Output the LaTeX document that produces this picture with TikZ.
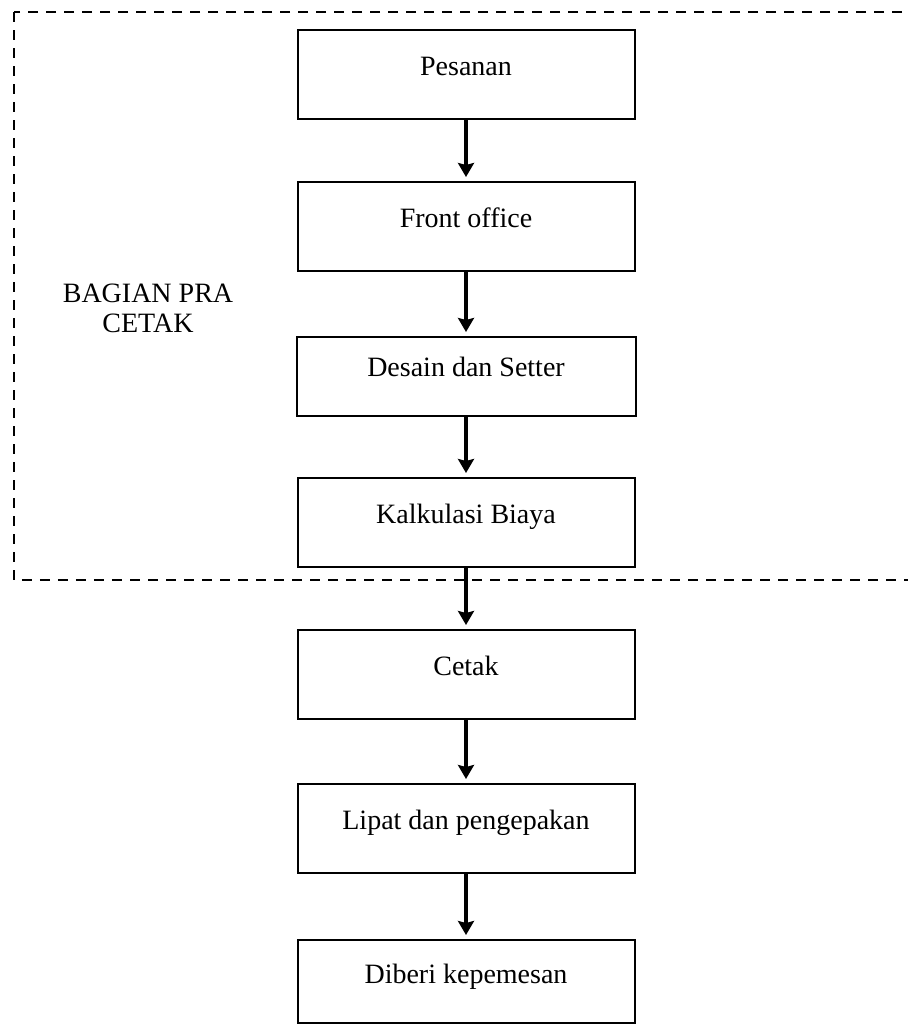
\documentclass[tikz,border=0pt]{standalone}
\usepackage{fontspec}
\setmainfont{Liberation Serif}
\usetikzlibrary{arrows.meta}

\tikzset{
    every step/.style={draw, line width=1pt, rectangle, inner sep=0pt,
        minimum width=168.5pt, text height=22.5pt, text depth=22pt,
        anchor=north, font=\fontsize{14pt}{15pt}\selectfont},
    step 3/.style={minimum width=169.5pt, text height=19.5pt, text depth=20pt},
    step 7/.style={text height=21.5pt, text depth=19.8pt},
    frame/.style={line width=1.1pt, dash pattern=on 5pt off 4pt},
}

\begin{document}
\begin{tikzpicture}[x=0.5pt, y=-0.5pt, >={Stealth[length=7pt, width=8pt, inset=1pt]}]
        \useasboundingbox (0,0) rectangle (907,1024);

        %%%%%%%%%%%%%%%%%%%%%%%%%%%%%%%%%%%%%%%%%%%%
        % Pra cetak frame
        %%%%%%%%%%%%%%%%%%%%%%%%%%%%%%%%%%%%%%%%%%%%
        \draw [frame] (14,12) rectangle (925,580);
        \node [align=center, font=\fontsize{14pt}{15pt}\selectfont]
            (pra) at (148,308) {BAGIAN PRA\\CETAK};

        %%%%%%%%%%%%%%%%%%%%%%%%%%%%%%%%%%%%%%%%%%%%
        % Process steps
        %%%%%%%%%%%%%%%%%%%%%%%%%%%%%%%%%%%%%%%%%%%%

        % Drawing
        \foreach \l/\y [count=\i] in {Pesanan/29, Front office/181,
                Desain dan Setter/336, Kalkulasi Biaya/477, Cetak/629,
                Lipat dan pengepakan/783, Diberi kepemesan/939}
            \node [every step/.try, step \i/.try] (step-\i) at (466,\y) {\l};

        %%%%%%%%%%%%%%%%%%%%%%%%%%%%%%%%%%%%%%%%%%%%
        % Connecting
        %%%%%%%%%%%%%%%%%%%%%%%%%%%%%%%%%%%%%%%%%%%%
        \foreach \i [evaluate=\i as \j using int(\i+1)] in {1,...,6}
            \draw [->, line width=2pt, shorten >=2pt] (step-\i.south) -- (step-\j.north);
    \end{tikzpicture}
\end{document}
